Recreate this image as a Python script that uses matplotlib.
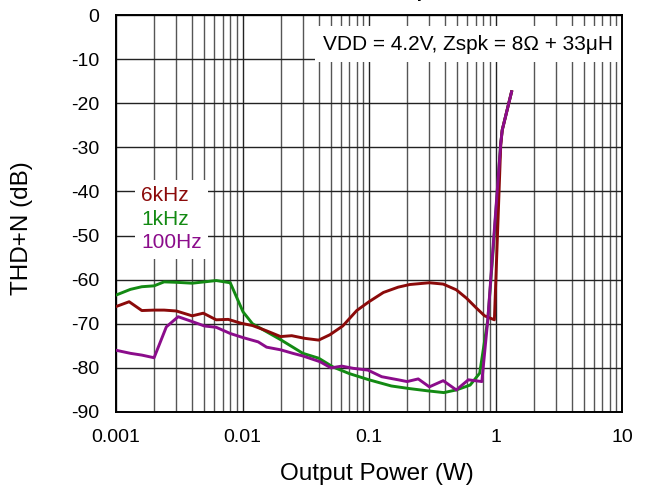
import matplotlib
matplotlib.use("Agg")
import matplotlib.pyplot as plt
from matplotlib.ticker import LogLocator, FixedLocator, NullFormatter

plt.rcParams['font.family'] = ['Liberation Sans', 'DejaVu Sans']

# ---- data ----
p_6k = [0.001, 0.00127, 0.0016, 0.002, 0.0024, 0.003, 0.004, 0.0049, 0.0062, 0.0077,
        0.0098, 0.012, 0.0155, 0.02, 0.0245, 0.031, 0.04, 0.049, 0.062, 0.08, 0.1,
        0.13, 0.17, 0.21, 0.3, 0.386, 0.49, 0.59, 0.71, 0.82, 0.98, 1.1, 1.13, 1.34]
thd_6k = [-66.1, -65.0, -67.0, -66.9, -66.9, -67.1, -68.2, -67.6, -69.1, -69.0,
          -69.9, -70.4, -71.6, -72.9, -72.7, -73.3, -73.7, -72.5, -70.5, -67.0, -65.0,
          -62.9, -61.7, -61.1, -60.7, -61.0, -62.3, -64.2, -66.5, -68.2, -69.1, -29.5, -26.1, -17.4]

p_1k = [0.001, 0.0013, 0.0016, 0.002, 0.0024, 0.003, 0.004, 0.005, 0.0062, 0.008,
        0.0101, 0.012, 0.02, 0.03, 0.04, 0.052, 0.07, 0.1, 0.15, 0.21, 0.29, 0.39,
        0.49, 0.63, 0.75, 0.87, 0.96, 1.1, 1.13, 1.34]
thd_1k = [-63.5, -62.2, -61.6, -61.4, -60.5, -60.6, -60.8, -60.5, -60.2, -60.7,
          -67.3, -70.0, -73.6, -76.7, -77.8, -79.8, -81.3, -82.7, -84.1, -84.7, -85.2, -85.6,
          -85.0, -83.9, -81.2, -69.0, -53.0, -29.1, -26.1, -17.4]

p_100 = [0.001, 0.0013, 0.0016, 0.002, 0.0025, 0.0031, 0.004, 0.005, 0.0062, 0.008,
         0.01, 0.0133, 0.0155, 0.02, 0.025, 0.03, 0.041, 0.05, 0.061, 0.075, 0.098,
         0.126, 0.17, 0.2, 0.245, 0.3, 0.386, 0.49, 0.61, 0.78, 0.87, 0.96, 1.1, 1.13, 1.34]
thd_100 = [-76.0, -76.7, -77.1, -77.7, -70.7, -68.4, -69.5, -70.5, -70.8, -72.2,
           -73.1, -74.1, -75.3, -75.9, -76.7, -77.3, -78.6, -80.0, -79.6, -80.1, -80.5,
           -82.0, -82.7, -83.1, -82.5, -84.3, -82.9, -85.0, -82.7, -83.1, -69.0, -52.0, -29.1, -26.1, -17.4]

series_labels = ['6kHz', '1kHz', '100Hz']
series_colors = ['#8B0A0A', '#138A13', '#8B0C8B']

x_ticks = [0.001, 0.01, 0.1, 1, 10]
x_tick_labels = ['0.001', '0.01', '0.1', '1', '10']
y_ticks = [0, -10, -20, -30, -40, -50, -60, -70, -80, -90]

title = 'THD+N vs Output Power'
note = 'VDD = 4.2V, Zspk = 8\u03a9 + 33\u03bcH'

# ---- figure ----
fig = plt.figure(figsize=(6.47, 4.91), dpi=100)
ax = fig.add_axes([116/647, 1-412/491, (622-116)/647, (412-15)/491])

ax.set_xscale('log')
ax.set_xlim(0.001, 10)
ax.set_ylim(-90, 0)

l_g, = ax.plot(p_1k, thd_1k, color=series_colors[1], lw=2.1, zorder=3)
l_r, = ax.plot(p_6k, thd_6k, color=series_colors[0], lw=2.1, zorder=3)
l_p, = ax.plot(p_100, thd_100, color=series_colors[2], lw=2.1, zorder=4)

ax.xaxis.set_major_locator(FixedLocator(x_ticks))
ax.set_xticklabels(x_tick_labels)
ax.xaxis.set_minor_locator(LogLocator(base=10, subs=range(2, 10)))
ax.xaxis.set_minor_formatter(NullFormatter())
ax.set_yticks(y_ticks)
ax.set_yticklabels([str(v) for v in y_ticks])

ax.grid(which='major', axis='both', color='#222222', lw=1.0)
ax.grid(which='minor', axis='x', color='#555555', lw=1.0)
ax.set_axisbelow(True)

ax.tick_params(which='both', length=0, pad=12, labelsize=14)
for s in ax.spines.values():
    s.set_linewidth(1.4)
    s.set_color('black')

ax.set_xlabel('Output Power (W)', fontsize=17.5, va='center')
ax.xaxis.set_label_coords((377-116)/506, (412-474)/397)
ax.set_ylabel('THD+N (dB)', fontsize=17.5, va='center')
ax.yaxis.set_label_coords((22-116)/506, (412-228)/397)

leg = ax.legend([l_r, l_g, l_p], series_labels, loc='upper left',
                bbox_to_anchor=((135-116)/506, (412-180)/397),
                handlelength=0, handletextpad=0, fontsize=15,
                frameon=True, fancybox=False, framealpha=1,
                borderpad=0.3, labelspacing=0.22, borderaxespad=0)
leg.get_frame().set_facecolor('white')
leg.get_frame().set_edgecolor('none')
for h in leg.legend_handles:
    h.set_visible(False)
for t, c in zip(leg.get_texts(), series_colors):
    t.set_color(c)
leg.set_zorder(5)

ax.text((613-116)/506, (412-44)/397, note, transform=ax.transAxes, ha='right', va='center',
        fontsize=15, zorder=5,
        bbox=dict(facecolor='white', edgecolor='none', pad=6))

fig.text(398/647, 1 + 3/491, title, ha='center', va='baseline',
         fontsize=14, fontweight='bold')

fig.savefig('out.png', dpi=100)
